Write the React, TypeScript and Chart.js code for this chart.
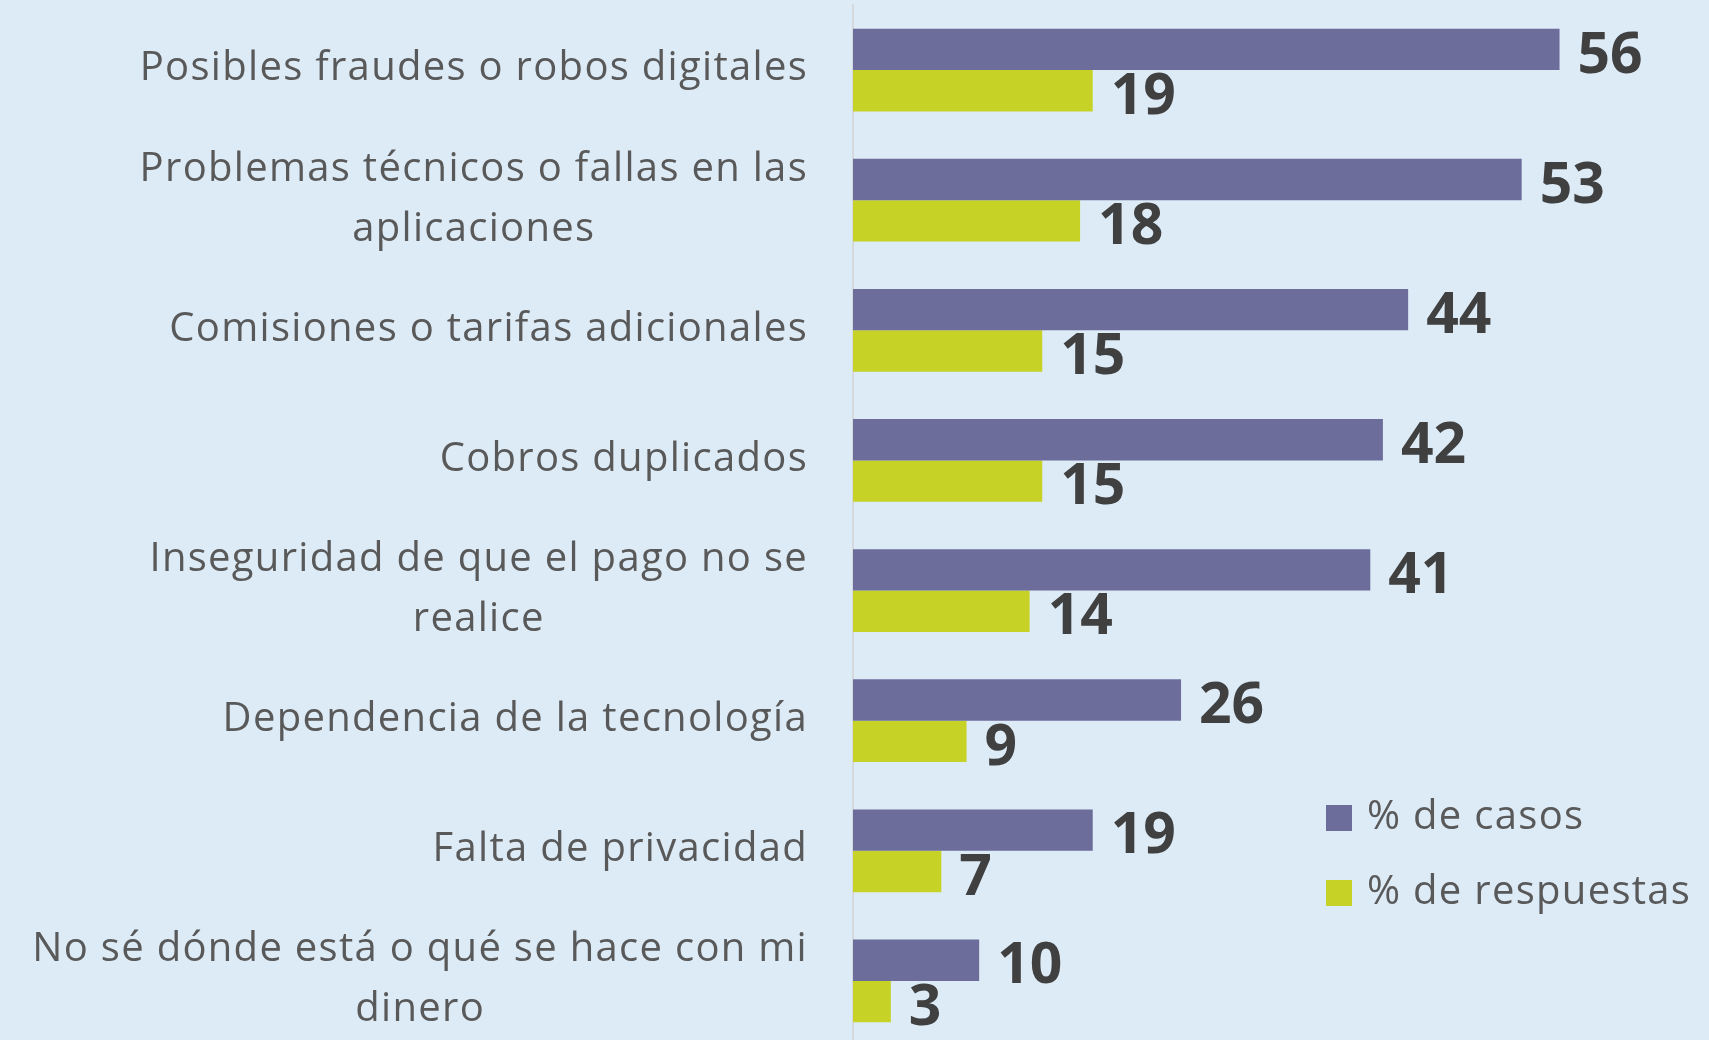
import React, { useEffect, useRef } from "react";
import { Chart, registerables } from "chart.js";

Chart.register(...registerables);

const categories: (string | string[])[] = [
  "Posibles fraudes o robos digitales",
  ["Problemas técnicos o fallas en las", "aplicaciones"],
  "Comisiones o tarifas adicionales",
  "Cobros duplicados",
  ["Inseguridad de que el pago no se", "realice"],
  "Dependencia de la tecnología",
  "Falta de privacidad",
  ["No sé dónde está o qué se hace con mi", "dinero"],
];
const seriesNames = ["% de casos", "% de respuestas"];
const casos = [56, 53, 44, 42, 41, 26, 19, 10];
const respuestas = [19, 18, 15, 15, 14, 9, 7, 3];

const BG = "#DDEBF7";
const PURPLE = "#6C6D9B";
const GREEN = "#C6D226";
const LABEL_COLOR = "#595959";
const VALUE_COLOR = "#404040";
const FONT = "'Open Sans', sans-serif";
const LABEL_FONT = `400 40px ${FONT}`;
const LABEL_SPACING = "1.3px";

const labelPlugin = {
  id: "customLabels",
  afterDraw(chart: any) {
    const ctx = chart.ctx;
    const yScale = chart.scales.y;
    const area = chart.chartArea;
    ctx.save();
    // category labels
    ctx.font = LABEL_FONT;
    (ctx as any).letterSpacing = LABEL_SPACING;
    ctx.fillStyle = LABEL_COLOR;
    ctx.textBaseline = "middle";
    const right = area.left - 45;
    const lh = 60;
    categories.forEach((c, i) => {
      const y = yScale.getPixelForTick(i) - 1;
      const lines = Array.isArray(c) ? c : [c];
      if (lines.length === 1) {
        ctx.textAlign = "right";
        ctx.fillText(lines[0], right, y);
      } else {
        const w = Math.max(...lines.map((l) => ctx.measureText(l).width));
        ctx.textAlign = "center";
        const cx = right - w / 2;
        lines.forEach((l, k) => {
          ctx.fillText(l, cx, y + (k - (lines.length - 1) / 2) * lh);
        });
      }
    });
    // value labels
    (ctx as any).letterSpacing = "0px";
    ctx.font = `700 57px ${FONT}`;
    ctx.fillStyle = VALUE_COLOR;
    ctx.textAlign = "left";
    chart.data.datasets.forEach((ds: any, di: number) => {
      const meta = chart.getDatasetMeta(di);
      meta.data.forEach((bar: any, i: number) => {
        ctx.fillText(String(ds.data[i]), bar.x + 18, bar.y + 7);
      });
    });
    // legend
    const lx = 1326;
    const ly = [818, 893];
    ctx.font = LABEL_FONT;
    (ctx as any).letterSpacing = LABEL_SPACING;
    chart.data.datasets.forEach((ds: any, di: number) => {
      ctx.fillStyle = ds.backgroundColor;
      ctx.fillRect(lx, ly[di] - 13, 26, 26);
      ctx.fillStyle = LABEL_COLOR;
      ctx.textAlign = "left";
      ctx.fillText(ds.label, lx + 41, ly[di]);
    });
    ctx.restore();
  },
};

export default function App() {
  const ref = useRef<HTMLCanvasElement | null>(null);
  useEffect(() => {
    if (!ref.current) return;
    const chart = new Chart(ref.current, {
      type: "bar",
      data: {
        labels: categories,
        datasets: [
          {
            label: seriesNames[0],
            data: casos,
            backgroundColor: PURPLE,
            barPercentage: 1,
            categoryPercentage: 0.636,
          },
          {
            label: seriesNames[1],
            data: respuestas,
            backgroundColor: GREEN,
            barPercentage: 1,
            categoryPercentage: 0.636,
          },
        ],
      },
      options: {
        indexAxis: "y",
        animation: false,
        responsive: true,
        maintainAspectRatio: false,
        layout: { padding: { top: 5, right: 99, bottom: 0, left: 0 } },
        scales: {
          x: {
            display: false,
            min: 0,
            max: 60,
            grid: { display: false },
          },
          y: {
            grid: { display: false, drawTicks: false },
            border: { display: true, color: "#D4D9DE", width: 2 },
            ticks: { display: false },
            afterFit(scale: any) {
              scale.width = 853;
            },
          },
        },
        plugins: {
          legend: { display: false },
          tooltip: { enabled: false },
        },
      },
      plugins: [labelPlugin],
    });
    return () => chart.destroy();
  }, []);
  return (
    <div
      style={{
        position: "fixed",
        top: 0,
        left: 0,
        width: 1709,
        height: 1040,
        overflow: "hidden",
        background: BG,
      }}
    >
      <div style={{ position: "relative", width: 1709, height: 1046 }}>
        <canvas ref={ref} />
      </div>
    </div>
  );
}
